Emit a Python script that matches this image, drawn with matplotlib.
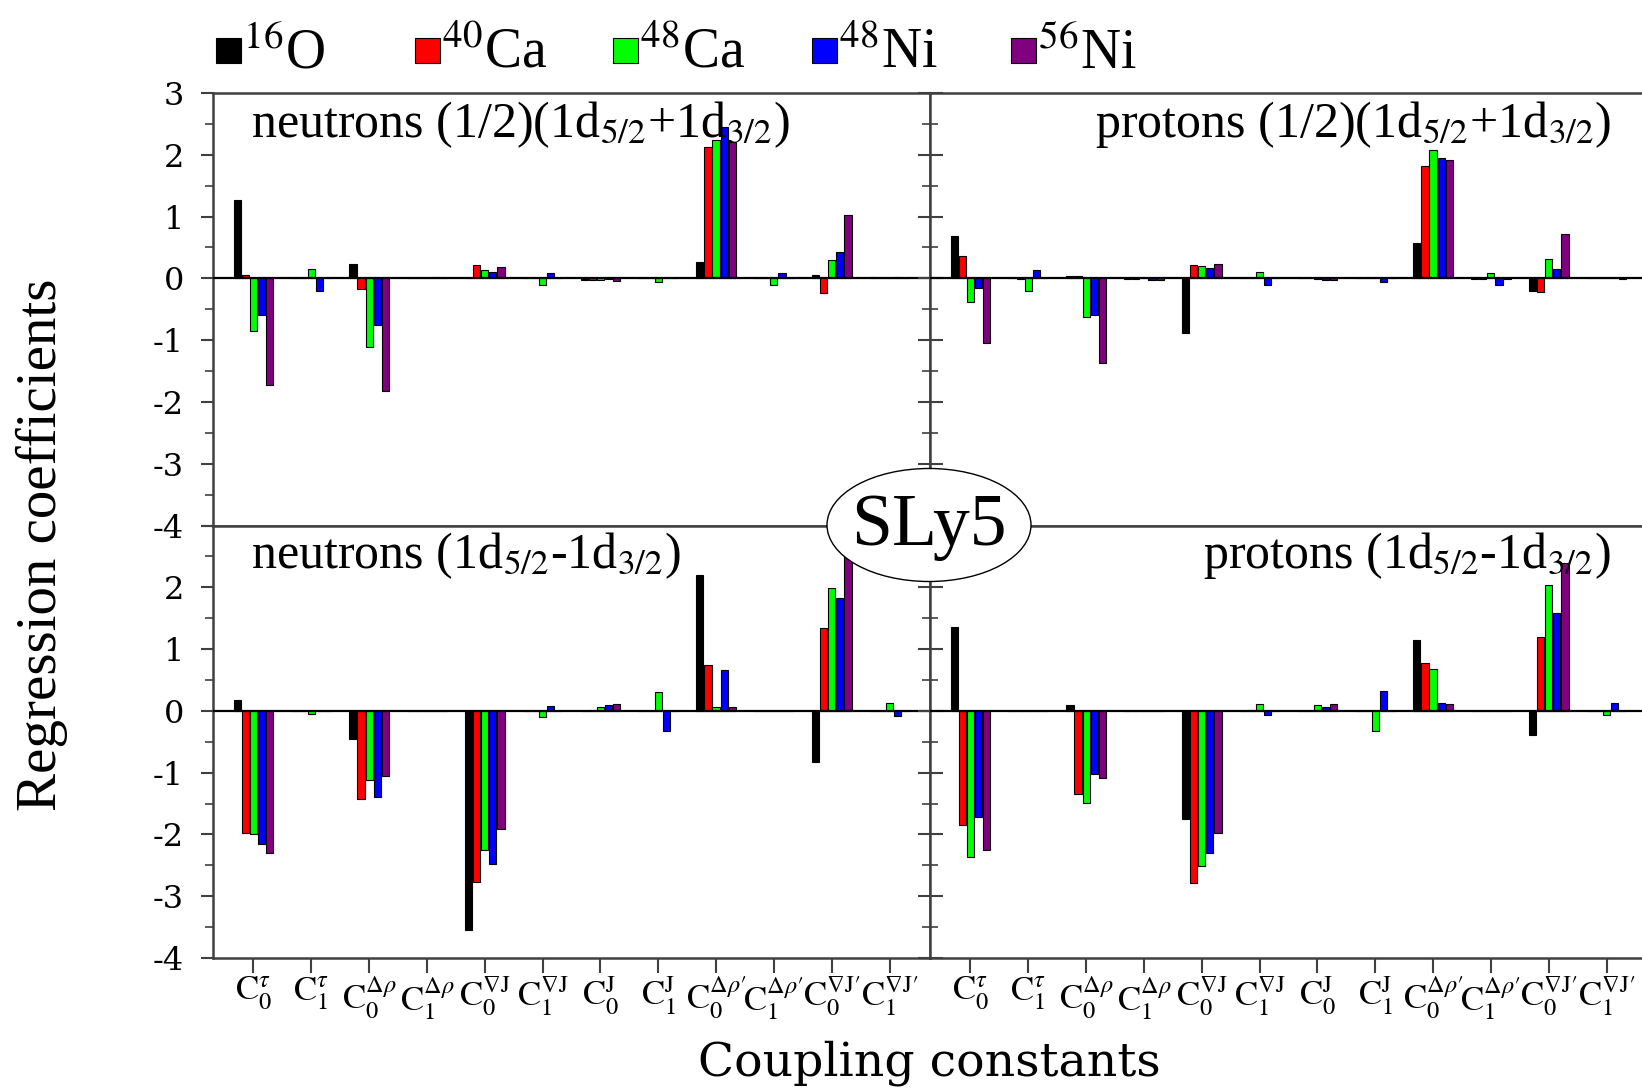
import numpy as np
import matplotlib
matplotlib.use("Agg")
import matplotlib.pyplot as plt
from matplotlib.patches import Ellipse, Rectangle

plt.rcParams["font.family"] = ["Liberation Serif", "DejaVu Serif"]
plt.rcParams["mathtext.fontset"] = "stix"
plt.rcParams["axes.unicode_minus"] = False

# coupling constants (x categories)
couplings = [
    r"$\mathrm{C}_0^{\tau}$", r"$\mathrm{C}_1^{\tau}$",
    r"$\mathrm{C}_0^{\Delta\rho}$", r"$\mathrm{C}_1^{\Delta\rho}$",
    r"$\mathrm{C}_0^{\nabla\mathrm{J}}$", r"$\mathrm{C}_1^{\nabla\mathrm{J}}$",
    r"$\mathrm{C}_0^{\mathrm{J}}$", r"$\mathrm{C}_1^{\mathrm{J}}$",
    r"$\mathrm{C}_0^{\Delta\rho\prime}$", r"$\mathrm{C}_1^{\Delta\rho\prime}$",
    r"$\mathrm{C}_0^{\nabla\mathrm{J}\prime}$", r"$\mathrm{C}_1^{\nabla\mathrm{J}\prime}$",
]

# nuclei (series)
mass_numbers = ["16", "40", "48", "48", "56"]
elements = ["O", "Ca", "Ca", "Ni", "Ni"]
colors = ["#000000", "#ff0000", "#00ff00", "#0000ff", "#800080"]

# rows: 16O, 40Ca, 48Ca, 48Ni, 56Ni
neutrons_sum = [
    [1.27, 0.00, 0.24, 0.01, 0.01, 0.00, -0.02, 0.00, 0.26, 0.00, 0.06, 0.02],
    [0.05, 0.00, -0.18, 0.01, 0.22, 0.00, -0.02, 0.00, 2.12, 0.00, -0.23, 0.01],
    [-0.85, 0.15, -1.11, 0.01, 0.14, -0.10, -0.02, -0.06, 2.24, -0.10, 0.30, 0.01],
    [-0.59, -0.20, -0.75, 0.02, 0.10, 0.09, -0.01, 0.01, 2.45, 0.09, 0.42, 0.02],
    [-1.73, 0.00, -1.83, 0.01, 0.18, 0.00, -0.04, 0.00, 2.20, 0.00, 1.03, 0.01],
]
protons_sum = [
    [0.68, 0.00, 0.04, -0.01, -0.88, 0.00, 0.00, 0.00, 0.57, -0.01, -0.20, 0.00],
    [0.36, -0.01, 0.04, -0.01, 0.22, 0.00, 0.00, 0.00, 1.82, -0.01, -0.22, 0.00],
    [-0.38, -0.21, -0.62, 0.01, 0.20, 0.10, -0.01, 0.00, 2.07, 0.09, 0.31, 0.00],
    [-0.16, 0.14, -0.59, -0.02, 0.17, -0.10, -0.02, -0.06, 1.94, -0.10, 0.15, 0.00],
    [-1.04, 0.00, -1.37, -0.02, 0.24, 0.00, -0.03, 0.00, 1.92, -0.01, 0.71, -0.01],
]
neutrons_diff = [
    [0.17, 0.00, -0.45, 0.00, -3.55, 0.00, 0.00, 0.00, 2.20, 0.00, -0.83, 0.00],
    [-1.97, 0.00, -1.42, 0.00, -2.77, 0.00, 0.01, 0.00, 0.75, 0.00, 1.34, 0.00],
    [-2.00, -0.05, -1.12, 0.00, -2.26, -0.10, 0.07, 0.31, 0.07, 0.00, 1.99, 0.12],
    [-2.15, 0.00, -1.39, 0.00, -2.48, 0.08, 0.09, -0.32, 0.66, 0.00, 1.82, -0.09],
    [-2.30, 0.00, -1.05, 0.00, -1.91, 0.00, 0.11, 0.00, 0.07, 0.00, 2.70, 0.00],
]
protons_diff = [
    [1.36, 0.00, 0.09, 0.00, -1.75, 0.00, 0.00, 0.00, 1.14, 0.00, -0.39, 0.00],
    [-1.85, 0.00, -1.34, 0.00, -2.78, 0.01, 0.00, 0.00, 0.78, 0.00, 1.20, 0.00],
    [-2.36, 0.00, -1.49, 0.00, -2.51, 0.11, 0.09, -0.32, 0.68, 0.00, 2.03, -0.07],
    [-1.71, 0.00, -1.03, 0.00, -2.30, -0.07, 0.07, 0.32, 0.13, 0.00, 1.58, 0.12],
    [-2.25, 0.00, -1.08, 0.00, -1.98, 0.00, 0.11, 0.00, 0.11, 0.00, 2.39, 0.00],
]

titles = [
    r"neutrons (1/2)(1d$_{5/2}$+1d$_{3/2}$)",
    r"protons (1/2)(1d$_{5/2}$+1d$_{3/2}$)",
    r"neutrons (1d$_{5/2}$-1d$_{3/2}$)",
    r"protons (1d$_{5/2}$-1d$_{3/2}$)",
]

W, H = 1642, 1091
fig = plt.figure(figsize=(W / 100, H / 100), dpi=100)

x0, xm, pw = 213, 930, 717
ytop, ymid, ybot = 93, 525.5, 958
rects = [
    [x0 / W, 1 - ymid / H, pw / W, (ymid - ytop) / H],
    [xm / W, 1 - ymid / H, pw / W, (ymid - ytop) / H],
    [x0 / W, 1 - ybot / H, pw / W, (ybot - ymid) / H],
    [xm / W, 1 - ybot / H, pw / W, (ybot - ymid) / H],
]
panels = [neutrons_sum, protons_sum, neutrons_diff, protons_diff]

x = np.arange(len(couplings))
step, width = 0.14, 0.125
spine_c = "#404040"

for k, (rect, data) in enumerate(zip(rects, panels)):
    ax = fig.add_axes(rect)
    for i, vals in enumerate(data):
        ax.bar(x + (i - 2) * step, vals, width, color=colors[i],
               edgecolor="black", linewidth=0.8, zorder=3)
    ax.axhline(0, color="black", lw=1.6, zorder=4)
    ax.set_xlim(-0.7, len(couplings) - 0.3)
    ax.set_ylim(-4, 3)
    for s in ax.spines.values():
        s.set_color(spine_c)
        s.set_linewidth(1.8)
    ax.set_yticks(np.arange(-4, 4))
    ax.set_yticks(np.arange(-4, 3.5, 0.5), minor=True)
    ax.set_xticks(x)
    left = k % 2 == 0
    top = k < 2
    if left:
        labels = [str(v) for v in range(-4, 4)]
        if not top:
            labels[-1] = ""
        ax.set_yticklabels(labels, family="DejaVu Serif", fontsize=23)
        ax.tick_params(axis="y", which="major", direction="out", length=9,
                       width=1.5, color=spine_c, pad=12)
        ax.tick_params(axis="y", which="minor", direction="out", length=6,
                       width=1.2, color=spine_c)
    else:
        ax.set_yticklabels([])
        ax.tick_params(axis="y", which="major", direction="inout", length=18,
                       width=1.5, color=spine_c)
        ax.tick_params(axis="y", which="minor", direction="inout", length=11,
                       width=1.2, color=spine_c)
    ax.tick_params(axis="x", direction="out", length=11, width=1.5, color=spine_c)
    if top:
        ax.set_xticklabels([])
    else:
        ax.set_xticklabels(couplings, fontsize=25)
        ax.tick_params(axis="x", pad=1)

# overlay in pixel coordinates
ov = fig.add_axes([0, 0, 1, 1], zorder=10)
ov.set_xlim(0, W)
ov.set_ylim(H, 0)
ov.axis("off")

# legend
for i in range(len(elements)):
    lx = 216 + i * 198.7
    ov.add_patch(Rectangle((lx, 38), 25, 25, facecolor=colors[i],
                           edgecolor="black", linewidth=0.8))
    ov.text(lx + 27, 68, r"$^{%s}$" % mass_numbers[i] + elements[i],
            fontsize=40, va="baseline", ha="left")

# panel titles
ov.text(251, 137, titles[0], fontsize=36, va="baseline", ha="left")
ov.text(1611, 137, titles[1], fontsize=36, va="baseline", ha="right")
ov.text(251, 568, titles[2], fontsize=36, va="baseline", ha="left")
ov.text(1611, 568, titles[3], fontsize=36, va="baseline", ha="right")

# SLy5 badge
ov.add_patch(Ellipse((929, 525), 204, 113, facecolor="white",
                     edgecolor="black", linewidth=1.0))
ov.text(929, 527, "SLy5", fontsize=53, ha="center", va="center")

ov.text(42, 545, "Regression coefficients", fontsize=41, rotation=90,
        ha="center", va="center")
ov.text(929, 1063, "Coupling constants", fontsize=34, family="DejaVu Serif",
        ha="center", va="center")

fig.savefig("out.png", dpi=100)
